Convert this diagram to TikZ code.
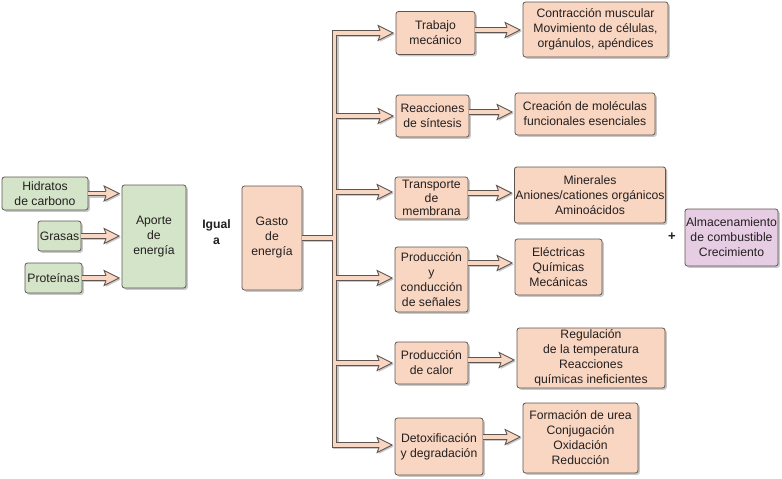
\documentclass[tikz,border=0pt]{standalone}
\usepackage{fontspec}
\setmainfont{Liberation Sans}
\usetikzlibrary{calc,shadows}
\definecolor{peach}{RGB}{249,214,193}
\definecolor{greenf}{RGB}{212,228,200}
\definecolor{purplef}{RGB}{230,205,228}
\definecolor{edgec}{RGB}{95,85,80}
\definecolor{shadowc}{RGB}{200,200,200}
\definecolor{txt}{RGB}{35,31,32}
\tikzset{
  box/.style={draw=edgec, line width=0.8pt, rounded corners=2.5pt, fill=peach, align=center,
    inner sep=1pt, text=txt, font=\fontsize{12.2}{15}\selectfont,
    drop shadow={shadow xshift=1.8pt, shadow yshift=-1.8pt, fill=shadowc, opacity=1}},
  gbox/.style={box, fill=greenf},
  pbox/.style={box, fill=purplef},
  fatshaft/.style={line join=miter,
    preaction={draw=shadowc, line width=5.6pt, transform canvas={shift={(1.5,1.5)}}},
    preaction={draw=edgec, line width=5.6pt},
    draw=peach, line width=3.8pt},
  pics/fhead/.style={code={
    \fill[shadowc, shift={(1.5,1.5)}] (-13,2.35) -- (-15,7.5) -- (0,0) -- (-15,-7.5) -- (-13,-2.35) -- cycle;
    \fill[peach] (-13,2.35) -- (-15,7.5) -- (0,0) -- (-15,-7.5) -- (-13,-2.35) -- cycle;
    \draw[edgec, line width=0.9pt, line join=miter] (-13,2.35) -- (-15,7.5) -- (0,0) -- (-15,-7.5) -- (-13,-2.35);
  }}
}
\newcommand{\fatarrow}[2]{%
  \path[fatshaft] #1 -- ($#2+(-15,0)$);
  \pic at ($#2+(-2.5,0)$) {fhead};
}
\begin{document}
\begin{tikzpicture}[x=1pt,y=-1pt]
\useasboundingbox (0,0) rectangle (782,479);
% left group
\node[gbox, minimum width=86pt, minimum height=33pt] (hid) at (45,193.5) {Hidratos\\de carbono};
\node[gbox, minimum width=43pt, minimum height=30pt] (gra) at (59.5,236) {Grasas};
\node[gbox, minimum width=57pt, minimum height=30pt] (pro) at (53.5,278) {Proteínas};
\node[gbox, minimum width=64pt, minimum height=103pt] (ap) at (154,236.5) {Aporte\\de\\energía};
\node[font=\bfseries\fontsize{12.2}{15.5}\selectfont, text=txt, align=center] (igual) at (216.5,232) {Igual\\a};
\node[box, minimum width=60pt, minimum height=104pt] (gasto) at (272,238) {Gasto\\de\\energía};
% middle column
\node[box, minimum width=79pt, minimum height=43pt] (trab) at (435.5,33) {Trabajo\\mecánico};
\node[box, minimum width=73pt, minimum height=42pt] (reac) at (432.5,116) {Reacciones\\de síntesis};
\node[box, minimum width=73pt, minimum height=42pt, font=\fontsize{12.2}{13.4}\selectfont] (trans) at (431.5,198) {Transporte\\de\\membrana};
\node[box, minimum width=73pt, minimum height=65pt] (prod) at (431.5,279.5) {Producción\\y\\conducción\\de señales};
\node[box, minimum width=73pt, minimum height=42pt] (calor) at (431.5,363) {Producción\\de calor};
\node[box, minimum width=88pt, minimum height=57pt] (detox) at (439,446.5) {Detoxificación\\y degradación};
% right column
\node[box, minimum width=145pt, minimum height=55pt] (contr) at (595.5,29.5) {Contracción muscular\\Movimiento de células,\\orgánulos, apéndices};
\node[box, minimum width=140pt, minimum height=42pt] (crea) at (585,114) {Creación de moléculas\\funcionales esenciales};
\node[box, minimum width=150pt, minimum height=56pt] (miner) at (590,195) {Minerales\\Aniones/cationes orgánicos\\Aminoácidos};
\node[box, minimum width=87pt, minimum height=56pt] (elec) at (558.5,267) {Eléctricas\\Químicas\\Mecánicas};
\node[box, minimum width=148pt, minimum height=60pt] (regul) at (591,358) {Regulación\\de la temperatura\\Reacciones\\químicas ineficientes};
\node[box, minimum width=115pt, minimum height=70pt] (form) at (580.5,438) {Formación de urea\\Conjugación\\Oxidación\\Reducción};
\node[font=\bfseries\fontsize{13}{15}\selectfont, text=txt] (plus) at (672,237) {+};
\node[pbox, minimum width=93pt, minimum height=57pt] (alm) at (731.5,237.5) {Almacenamiento\\de combustible\\Crecimiento};
% left arrows
\fatarrow{(hid.east)}{(ap.west |- hid.east)}
\fatarrow{(gra.east)}{(ap.west |- gra.east)}
\fatarrow{(pro.east)}{(ap.west |- pro.east)}
% tree
\coordinate (a1) at (334.5,33);
\coordinate (a2) at (334.5,116);
\coordinate (a3) at (334.5,192);
\coordinate (a4) at (334.5,278);
\coordinate (a5) at (334.5,363);
\coordinate (a6) at (334.5,445);
\coordinate (ag) at (334.5,238);
\path[fatshaft]
  ($(trab.west |- a1)+(-15,0)$) -- (a1) -- (a6) -- ($(detox.west |- a6)+(-15,0)$)
  (a2) -- ($(reac.west |- a2)+(-15,0)$)
  (a3) -- ($(trans.west |- a3)+(-15,0)$)
  (a4) -- ($(prod.west |- a4)+(-15,0)$)
  (a5) -- ($(calor.west |- a5)+(-15,0)$)
  (gasto.east) -- (ag);
\pic at ($(trab.west |- a1)+(-2.5,0)$) {fhead};
\pic at ($(reac.west |- a2)+(-2.5,0)$) {fhead};
\pic at ($(trans.west |- a3)+(-2.5,0)$) {fhead};
\pic at ($(prod.west |- a4)+(-2.5,0)$) {fhead};
\pic at ($(calor.west |- a5)+(-2.5,0)$) {fhead};
\pic at ($(detox.west |- a6)+(-2.5,0)$) {fhead};
% box to box arrows
\coordinate (y1) at (0,30);
\coordinate (y2) at (0,112);
\coordinate (y3) at (0,193);
\coordinate (y4) at (0,263);
\coordinate (y5) at (0,360);
\coordinate (y6) at (0,437);
\fatarrow{(trab.east |- y1)}{(contr.west |- y1)}
\fatarrow{(reac.east |- y2)}{(crea.west |- y2)}
\fatarrow{(trans.east |- y3)}{(miner.west |- y3)}
\fatarrow{(prod.east |- y4)}{(elec.west |- y4)}
\fatarrow{(calor.east |- y5)}{(regul.west |- y5)}
\fatarrow{(detox.east |- y6)}{(form.west |- y6)}
\end{tikzpicture}
\end{document}
